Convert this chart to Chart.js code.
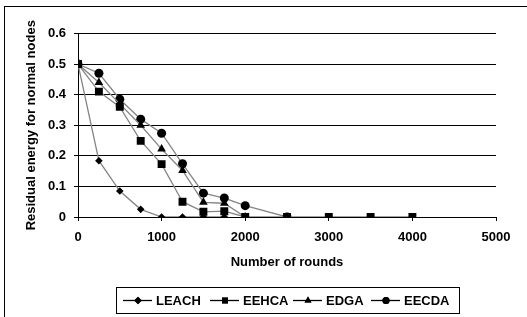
<!DOCTYPE html>
<html>
<head>
<meta charset="utf-8">
<script src="https://cdn.jsdelivr.net/npm/chart.js@4/dist/chart.umd.min.js"></script>
<style>
  html, body { margin: 0; padding: 0; background: #fff; }
  #wrap { width: 527px; height: 317px; }
</style>
</head>
<body>
<div id="wrap"><canvas id="chart" width="527" height="317"></canvas></div>
<script>
// rounds on x, residual energy on y
const rounds = [0, 250, 500, 750, 1000, 1250, 1500, 1750, 2000, 2500, 3000, 3500, 4000];
const leach = [0.5, 0.184, 0.085, 0.025, 0, 0, 0, 0, null, null, null, null, null];
const eehca = [0.5, 0.41, 0.36, 0.249, 0.173, 0.05, 0.017, 0.019, 0, 0, 0, 0, 0];
const edga  = [0.5, 0.44, 0.37, 0.30, 0.222, 0.152, 0.048, 0.045, 0, null, null, null, null];
const eecda = [0.5, 0.47, 0.385, 0.32, 0.274, 0.174, 0.078, 0.062, 0.037, 0, null, null, null];

const seriesNames = ['LEACH', 'EEHCA', 'EDGA', 'EECDA'];
const seriesValues = [leach, eehca, edga, eecda];
const markers = [
  { style: 'rectRot', radius: 3.8 },
  { style: 'rect', radius: 5.6 },
  { style: 'triangle', radius: 5 },
  { style: 'circle', radius: 4.5 }
];
const drawOrder = [1, 0, 2, 3];

const FONT = 'Arial, "Liberation Sans", sans-serif';

function points(vals) {
  const out = [];
  vals.forEach((v, i) => { if (v !== null) out.push({ x: rounds[i], y: v }); });
  return out;
}

const datasets = seriesNames.map((name, i) => ({
  label: name,
  data: points(seriesValues[i]),
  borderColor: '#858585',
  borderWidth: 1.3,
  backgroundColor: '#000',
  pointBackgroundColor: '#000',
  pointBorderColor: '#000',
  pointBorderWidth: 0,
  pointStyle: markers[i].style,
  pointRadius: markers[i].radius,
  pointHoverRadius: markers[i].radius,
  tension: 0,
  order: drawOrder[i]
}));

// legend row and outer frame, drawn like the spreadsheet chart
const legendX = [123, 210, 293, 371];
const legendScale = [1, 0.75, 0.8, 0.8];
const frameAndLegend = {
  id: 'frameAndLegend',
  afterDraw(chart) {
    const ctx = chart.ctx;
    ctx.save();
    ctx.strokeStyle = '#000';
    ctx.lineWidth = 1;
    ctx.strokeRect(4.5, 6.5, 700, 500);
    ctx.strokeRect(116.5, 287.5, 343, 26);

    const cy = 300.5;
    ctx.font = 'bold 13px ' + FONT;
    ctx.textBaseline = 'middle';
    seriesNames.forEach((name, i) => {
      const x0 = legendX[i];
      ctx.strokeStyle = '#000';
      ctx.lineWidth = 1.3;
      ctx.beginPath();
      ctx.moveTo(x0, cy);
      ctx.lineTo(x0 + 29, cy);
      ctx.stroke();
      Chart.helpers.drawPoint(ctx, {
        pointStyle: markers[i].style,
        radius: markers[i].radius * legendScale[i],
        borderWidth: 0
      }, x0 + 15, cy);
      ctx.fillStyle = '#000';
      ctx.fill();
      ctx.fillText(name, x0 + 33, cy + 0.5);
    });
    ctx.restore();
  }
};

new Chart(document.getElementById('chart'), {
  type: 'line',
  data: { datasets: datasets },
  options: {
    responsive: false,
    animation: false,
    layout: { padding: { top: 33.5, right: 31, left: 0, bottom: 0 } },
    plugins: {
      legend: { display: false },
      tooltip: { enabled: false }
    },
    scales: {
      x: {
        type: 'linear',
        min: 0,
        max: 5000,
        afterFit: s => { s.height = 100; },
        ticks: {
          stepSize: 1000,
          padding: 9,
          color: '#000',
          font: { family: FONT, size: 13, weight: 'bold' },
          callback: v => String(v)
        },
        grid: {
          drawOnChartArea: false,
          drawTicks: true,
          tickLength: 4,
          color: '#000'
        },
        border: { display: false },
        title: {
          display: true,
          text: 'Number of rounds',
          color: '#000',
          font: { family: FONT, size: 13, weight: 'bold' },
          padding: { top: 0, bottom: 47 }
        }
      },
      y: {
        min: 0,
        max: 0.6,
        afterFit: s => { s.width = 78; },
        ticks: {
          stepSize: 0.1,
          padding: 8,
          color: '#000',
          font: { family: FONT, size: 13, weight: 'bold' },
          callback: v => v === 0 ? '0' : v.toFixed(1)
        },
        grid: {
          color: '#000',
          lineWidth: 1,
          tickLength: 4
        },
        border: { display: true, color: '#000', width: 1 },
        title: {
          display: true,
          text: 'Residual energy for normal nodes',
          color: '#000',
          font: { family: FONT, size: 13, weight: 'bold' },
          padding: { top: 24, bottom: 0 }
        }
      }
    }
  },
  plugins: [frameAndLegend]
});
</script>
</body>
</html>
